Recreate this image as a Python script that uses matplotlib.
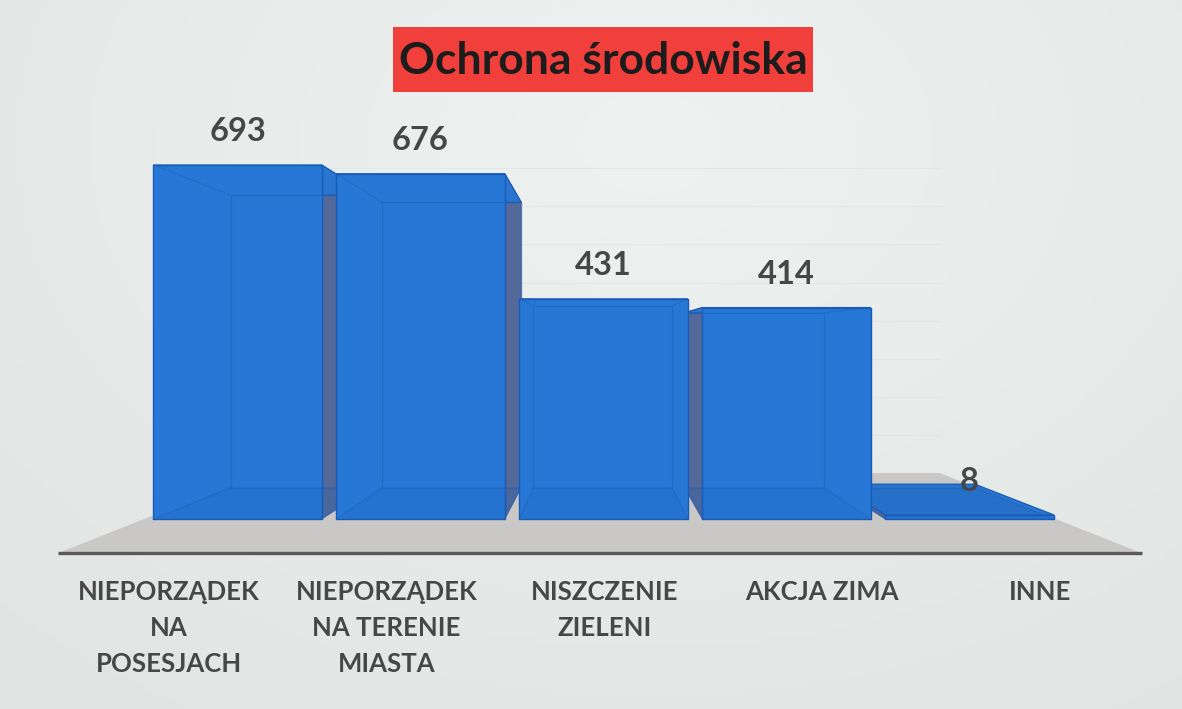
import matplotlib
matplotlib.use("Agg")
import matplotlib.pyplot as plt
import numpy as np
from matplotlib.patches import Polygon, Rectangle

# dane
categories = ["NIEPORZĄDEK\nNA\nPOSESJACH", "NIEPORZĄDEK\nNA TERENIE\nMIASTA",
              "NISZCZENIE\nZIELENI", "AKCJA ZIMA", "INNE"]
values = [693, 676, 431, 414, 8]
title = "Ochrona środowiska"

# perspektywa (punkt zbiegu w jednostkach osi)
vp_x, vp_y = 1.98, 354
back_s = 0.826       # tylna ściana słupka
floor_front_s = 1.19
floor_back_s = 0.746
bar_w = 0.92
floor_span = (-0.51, 4.47)

c_front = "#2778d6"
c_top = "#2a75cf"
c_side = "#52699a"
c_edge = "#1a5cb5"
c_text = "#474747"

plt.rcParams['font.family'] = ['Lato', 'DejaVu Sans']

fig = plt.figure(figsize=(11.82, 7.09), dpi=100)

# tło z delikatnym gradientem
bg = fig.add_axes([0, 0, 1, 1])
bg.axis('off')
yy, xx = np.mgrid[0:1:200j, 0:1:300j]
d = np.sqrt(((xx - 0.55) * 1.2) ** 2 + (yy - 0.2) ** 2)
shade = 243 - 14 * np.clip(d, 0, 1)
img = np.dstack([shade - 5, shade - 1, shade - 2]) / 255.0
bg.imshow(np.clip(img, 0, 1), extent=[0, 1, 0, 1], aspect='auto')
bg.set_xlim(0, 1)
bg.set_ylim(0, 1)

ax = fig.add_axes([0, 0, 1, 1])
ax.patch.set_alpha(0)
ax.set_xlim(-1.298, 5.161)
ax.set_ylim(-372, 1016)
ax.axis('off')


def proj(x, y, s):
    return vp_x + s * (x - vp_x), vp_y + s * (y - vp_y)


# podłoga
fx0, fx1 = floor_span
floor = [proj(fx0, 0, floor_front_s), proj(fx1, 0, floor_front_s),
         proj(fx1, 0, floor_back_s), proj(fx0, 0, floor_back_s)]
ax.add_patch(Polygon(floor, closed=True, facecolor="#cac8c7", edgecolor='none', zorder=1))
ax.plot([floor[0][0], floor[1][0]], [floor[0][1], floor[1][1]],
        color="#5a5a5a", lw=2.4, solid_capstyle='butt', zorder=2)

# bardzo słabe linie siatki na tylnej ścianie
for g in range(100, 900, 100):
    p0 = proj(fx0, g, floor_back_s)
    p1 = proj(fx1, g, floor_back_s)
    ax.plot([p0[0], p1[0]], [p0[1], p1[1]], color="#e3e6e5", lw=0.8, zorder=1.5)

# słupki 3D - kolejność rysowania od zewnątrz do punktu zbiegu
xs = np.arange(len(values))
order = [0, 1, 4, 3, 2]
for k, i in enumerate(order):
    v = values[i]
    x0, x1 = xs[i] - bar_w / 2, xs[i] + bar_w / 2
    z = 3 + k * 0.1
    b00 = proj(x0, 0, back_s)
    b10 = proj(x1, 0, back_s)
    b11 = proj(x1, v, back_s)
    b01 = proj(x0, v, back_s)
    # ściana boczna
    if xs[i] < vp_x:
        side = [(x1, 0), (x1, v), b11, b10]
    else:
        side = [(x0, 0), (x0, v), b01, b00]
    ax.add_patch(Polygon(side, closed=True, facecolor=c_side, edgecolor=c_side, lw=0.5, zorder=z))
    # górna ściana
    top = [(x0, v), (x1, v), b11, b01]
    ax.add_patch(Polygon(top, closed=True, facecolor=c_top, edgecolor=c_edge, lw=0.8, zorder=z + 0.01))
    # przód
    ax.bar(xs[i], v, width=bar_w, color=c_front, edgecolor=c_edge, linewidth=1.0, zorder=z + 0.02)
    # dno widoczne przez przezroczystą ścianę
    bottom = [(x0, 0), (x1, 0), b10, b00]
    ax.add_patch(Polygon(bottom, closed=True, facecolor="#1457b0", alpha=0.14,
                         edgecolor='none', zorder=z + 0.03))
    # krawędzie tylnej ściany
    ax.add_patch(Polygon([b00, b10, b11, b01], closed=True, facecolor='none',
                         edgecolor=c_edge, lw=1.0, alpha=0.45, zorder=z + 0.04))
    for fp, bp in [((x0, 0), b00), ((x1, 0), b10), ((x1, v), b11), ((x0, v), b01)]:
        ax.plot([fp[0], bp[0]], [fp[1], bp[1]], color=c_edge, lw=0.9, alpha=0.4, zorder=z + 0.04)

# etykiety wartości
for i, v in enumerate(values):
    ax.annotate(str(v), (xs[i], v), xytext=(0, 24), textcoords='offset points',
                ha='center', va='center', fontsize=23.5, fontweight='bold', color=c_text, zorder=10)

# etykiety kategorii na przedniej krawędzi podłogi
for i, lab in enumerate(categories):
    lx, _ = proj(xs[i], 0, floor_front_s)
    ax.text(lx, -119, lab, ha='center', va='top', fontsize=18.5, fontweight='bold',
            color=c_text, linespacing=1.6, zorder=10)

# tytuł w czerwonej ramce
fig.patches.append(Rectangle((393 / 1182, 1 - 92 / 709), 420 / 1182, 65 / 709,
                             transform=fig.transFigure, facecolor="#f1403b",
                             edgecolor='none', zorder=5))
fig.text(603 / 1182, 1 - 61 / 709, title, ha='center', va='center', fontsize=32,
         fontweight='bold', color="#1c1c1c", zorder=6)

fig.savefig("out.png", dpi=100)
